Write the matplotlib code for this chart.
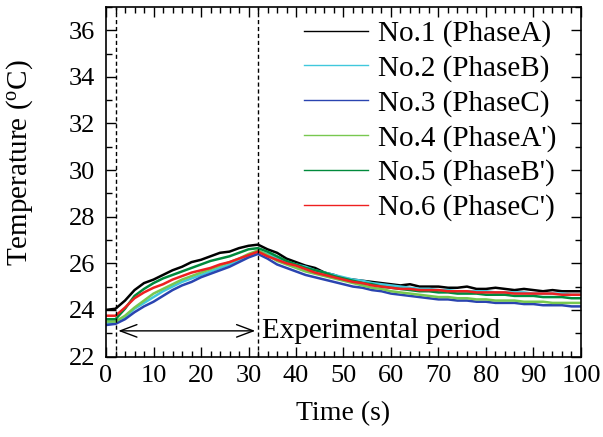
import numpy as np
import matplotlib
matplotlib.use('Agg')
import matplotlib.pyplot as plt
from matplotlib.ticker import MultipleLocator

plt.rcParams['font.family'] = ['Liberation Serif', 'DejaVu Serif']
plt.rcParams['mathtext.fontset'] = 'custom'
plt.rcParams['mathtext.rm'] = 'Liberation Serif'

# time axis (s), one reading every 2 s
time = list(range(0, 101, 2))

no1 = [24.0, 24.05, 24.4, 24.85, 25.15, 25.3, 25.5, 25.7, 25.85, 26.05, 26.15, 26.3, 26.45, 26.5, 26.65, 26.75, 26.8,
       26.6, 26.45, 26.2, 26.05, 25.9, 25.8, 25.6, 25.5, 25.35, 25.3, 25.25, 25.2, 25.15, 25.1, 25.05, 25.1, 25.0,
       25.0, 25.0, 24.95, 24.95, 25.0, 24.9, 24.9, 24.95, 24.9, 24.85, 24.9, 24.85, 24.8, 24.85, 24.8, 24.8, 24.8]
no2 = [23.45, 23.45, 23.7, 24.05, 24.3, 24.55, 24.8, 25.0, 25.2, 25.35, 25.5, 25.65, 25.8, 25.95, 26.1, 26.3, 26.5,
       26.4, 26.2, 26.05, 25.95, 25.85, 25.7, 25.6, 25.5, 25.4, 25.3, 25.25, 25.15, 25.1, 25.05, 25.0, 24.95, 24.9,
       24.9, 24.85, 24.85, 24.8, 24.8, 24.8, 24.8, 24.75, 24.75, 24.75, 24.75, 24.7, 24.7, 24.7, 24.7, 24.65, 24.65]
no3 = [23.35, 23.4, 23.6, 23.9, 24.15, 24.35, 24.6, 24.85, 25.05, 25.2, 25.4, 25.55, 25.7, 25.85, 26.05, 26.25, 26.4,
       26.2, 25.95, 25.8, 25.65, 25.5, 25.4, 25.3, 25.2, 25.1, 25.0, 24.95, 24.85, 24.8, 24.7, 24.65, 24.6, 24.55,
       24.5, 24.45, 24.45, 24.4, 24.4, 24.35, 24.35, 24.3, 24.3, 24.3, 24.25, 24.25, 24.2, 24.2, 24.2, 24.15, 24.15]
no4 = [23.5, 23.5, 23.75, 24.1, 24.4, 24.7, 24.9, 25.1, 25.3, 25.45, 25.6, 25.75, 25.9, 26.05, 26.2, 26.4, 26.55,
       26.35, 26.1, 25.95, 25.8, 25.65, 25.55, 25.45, 25.35, 25.25, 25.15, 25.05, 24.95, 24.9, 24.8, 24.75, 24.7,
       24.65, 24.6, 24.55, 24.55, 24.5, 24.5, 24.45, 24.45, 24.4, 24.4, 24.4, 24.35, 24.35, 24.35, 24.3, 24.3, 24.3, 24.3]
no5 = [23.6, 23.6, 24.05, 24.6, 24.9, 25.15, 25.35, 25.5, 25.65, 25.8, 25.95, 26.1, 26.2, 26.3, 26.45, 26.6, 26.65,
       26.5, 26.3, 26.1, 25.95, 25.8, 25.7, 25.6, 25.45, 25.35, 25.25, 25.15, 25.1, 25.0, 24.95, 24.9, 24.85, 24.8,
       24.8, 24.75, 24.75, 24.7, 24.7, 24.7, 24.65, 24.65, 24.65, 24.6, 24.6, 24.6, 24.55, 24.55, 24.55, 24.5, 24.5]
no6 = [23.75, 23.75, 24.1, 24.5, 24.75, 24.95, 25.1, 25.3, 25.45, 25.6, 25.7, 25.8, 25.95, 26.05, 26.2, 26.35, 26.5,
       26.3, 26.15, 26.0, 25.9, 25.75, 25.6, 25.5, 25.4, 25.3, 25.2, 25.15, 25.05, 25.0, 24.95, 24.9, 24.9, 24.85,
       24.85, 24.85, 24.8, 24.8, 24.8, 24.75, 24.75, 24.75, 24.75, 24.7, 24.7, 24.7, 24.7, 24.7, 24.65, 24.65, 24.65]

labels = ['No.1 (PhaseA)', 'No.2 (PhaseB)', 'No.3 (PhaseC)',
          "No.4 (PhaseA')", "No.5 (PhaseB')", "No.6 (PhaseC')"]
colors = ['black', '#40c8dc', '#2a44b0', '#78c850', '#008a3c', '#ee2020']
series = [no1, no2, no3, no4, no5, no6]

period_start, period_end = 2, 32

fig = plt.figure(figsize=(6.03, 4.37), dpi=100)
ax = fig.add_axes([0.1758, 0.1842, 0.7877, 0.80])

for y, c, lab in zip(series, colors, labels):
    ax.plot(time, y, color=c, lw=1.8, label=lab)

ax.axvline(period_start, color='black', ls=(0, (3, 2)), lw=1)
ax.axvline(period_end, color='black', ls=(0, (3, 2)), lw=1)
ax.annotate('', xy=(period_start, 23.1), xytext=(period_end, 23.1),
            arrowprops=dict(arrowstyle='<->,head_length=1.2,head_width=0.45', color='black', lw=1))
ax.text(period_end + 0.8, 23.1, 'Experimental period', fontsize=21, va='center', ha='left')

ax.set_xlim(0, 100)
ax.set_ylim(22, 37)
ax.xaxis.set_major_locator(MultipleLocator(10))
ax.xaxis.set_minor_locator(MultipleLocator(2))
ax.yaxis.set_major_locator(MultipleLocator(2))
ax.yaxis.set_minor_locator(MultipleLocator(1))
ax.tick_params(which='both', direction='in', top=True, right=True, labelsize=19)
ax.tick_params(which='major', length=7, width=1)
ax.tick_params(which='minor', length=4, width=1)
ax.tick_params(axis='x', pad=6)
ax.tick_params(axis='y', pad=8)
for s in ax.spines.values():
    s.set_linewidth(1.2)

ax.set_xlabel('Time (s)', fontsize=20, labelpad=10)
ax.set_ylabel('Temperature ($\\mathrm{^{o}}$C)', fontsize=21)
ax.yaxis.set_label_coords(-0.15, 0.554)

leg = ax.legend(loc='upper left', bbox_to_anchor=(0.417, 0.962), frameon=False, fontsize=21,
                handlelength=2.2, handletextpad=0.35, labelspacing=0.27, borderpad=0, borderaxespad=0)
for line in leg.get_lines():
    line.set_linewidth(1)

fig.savefig('out.png', dpi=100)
